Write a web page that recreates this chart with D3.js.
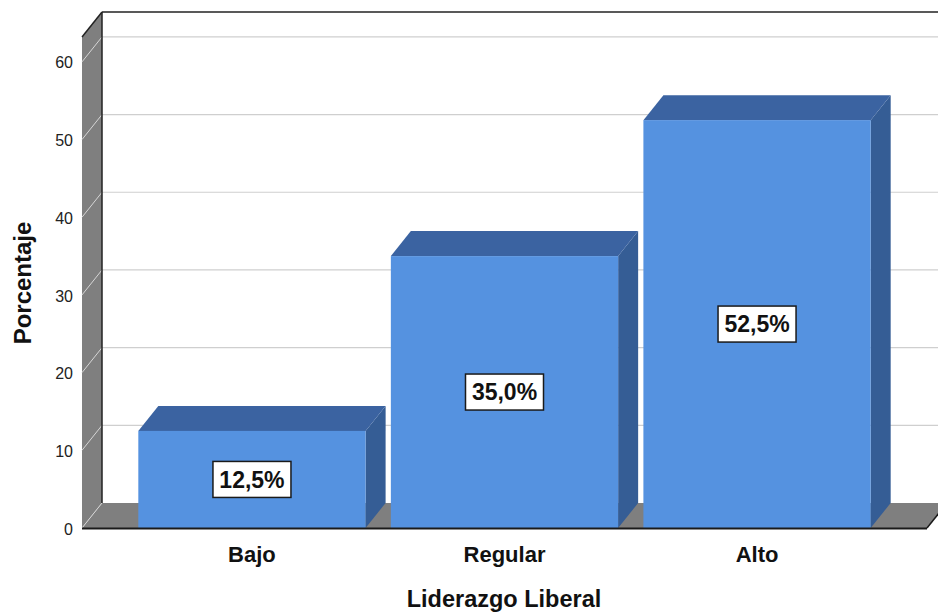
<!DOCTYPE html>
<html>
<head>
<meta charset="utf-8">
<script src="https://cdn.jsdelivr.net/npm/d3@7/dist/d3.min.js"></script>
<style>
  html, body { margin: 0; padding: 0; background: #ffffff; }
  svg { display: block; font-family: "Liberation Sans", Arial, sans-serif; }
</style>
</head>
<body>
<svg id="chart" width="938" height="613"></svg>
<script>
const categories = ["Bajo", "Regular", "Alto"];
const values = [12.5, 35.0, 52.5];
const valueLabels = ["12,5%", "35,0%", "52,5%"];
const yTicks = [0, 10, 20, 30, 40, 50, 60];
const xTitle = "Liderazgo Liberal";
const yTitle = "Porcentaje";

const W = 938, H = 613;
const dx = 20, dy = -25;           // depth offset of the 3D box
const svg = d3.select("#chart");

const y = d3.scaleLinear().domain([0, 63.2]).range([528, 37]);
const x = d3.scaleBand().domain(categories).range([82, 927])
  .paddingInner(0.1).paddingOuter(0.223);

const left = 82, right = 927, y0 = y(0), yMax = y.range()[1];

// back wall
svg.append("rect")
  .attr("x", left + dx).attr("y", yMax + dy)
  .attr("width", right - left + 10).attr("height", y0 - yMax)
  .attr("fill", "#ffffff");

// gridlines on back wall
svg.append("g").selectAll("line").data(yTicks.filter(t => t > 0)).join("line")
  .attr("x1", left + dx).attr("x2", W)
  .attr("y1", d => y(d) + dy).attr("y2", d => y(d) + dy)
  .attr("stroke", "#cfcfcf").attr("stroke-width", 1.2);

// top border of back wall
svg.append("line")
  .attr("x1", left + dx).attr("x2", W)
  .attr("y1", yMax + dy).attr("y2", yMax + dy)
  .attr("stroke", "#222").attr("stroke-width", 1.5);

// floor
svg.append("polygon")
  .attr("points", [[left, y0], [left + dx, y0 + dy], [right + dx, y0 + dy], [right, y0]].map(p => p.join(",")).join(" "))
  .attr("fill", "#7f7f7f");

// left wall
svg.append("polygon")
  .attr("points", [[left, yMax], [left + dx, yMax + dy], [left + dx, y0 + dy], [left, y0]].map(p => p.join(",")).join(" "))
  .attr("fill", "#7f7f7f");

// wall tick lines
svg.append("g").selectAll("line").data(yTicks).join("line")
  .attr("x1", left).attr("x2", left + dx)
  .attr("y1", d => y(d)).attr("y2", d => y(d) + dy)
  .attr("stroke", "#d6d6d6").attr("stroke-width", 1);

// wall edges
svg.append("line")
  .attr("x1", left + dx).attr("x2", left + dx)
  .attr("y1", yMax + dy).attr("y2", y0 + dy)
  .attr("stroke", "#222").attr("stroke-width", 1.5);
svg.append("line")
  .attr("x1", left).attr("x2", left + dx)
  .attr("y1", yMax).attr("y2", yMax + dy)
  .attr("stroke", "#222").attr("stroke-width", 1.5);

// bars
const bars = svg.append("g").selectAll("g").data(categories).join("g");
bars.each(function(c, i) {
  const g = d3.select(this);
  const x0 = x(c), x1 = x(c) + x.bandwidth(), yt = y(values[i]);
  g.append("polygon")
    .attr("points", [[x1, yt], [x1 + dx, yt + dy], [x1 + dx, y0 + dy], [x1, y0]].map(p => p.join(",")).join(" "))
    .attr("fill", "#355d95");
  g.append("polygon")
    .attr("points", [[x0, yt], [x0 + dx, yt + dy], [x1 + dx, yt + dy], [x1, yt]].map(p => p.join(",")).join(" "))
    .attr("fill", "#3b63a1");
  g.append("rect")
    .attr("x", x0).attr("y", yt).attr("width", x1 - x0).attr("height", y0 - yt)
    .attr("fill", "#5592e0");
});

// front bottom edge
svg.append("line")
  .attr("x1", left).attr("x2", right)
  .attr("y1", y0 + 0.5).attr("y2", y0 + 0.5)
  .attr("stroke", "#1a1a1a").attr("stroke-width", 2);
svg.append("line")
  .attr("x1", right).attr("x2", right + dx)
  .attr("y1", y0).attr("y2", y0 + dy)
  .attr("stroke", "#1a1a1a").attr("stroke-width", 1.5);

// value labels
const lbl = svg.append("g").selectAll("g").data(categories).join("g")
  .attr("transform", (c, i) => `translate(${x(c) + x.bandwidth() / 2},${(y(values[i]) + y0) / 2})`);
lbl.append("rect")
  .attr("x", -39).attr("y", -18).attr("width", 78).attr("height", 36)
  .attr("fill", "#ffffff").attr("stroke", "#1a1a1a").attr("stroke-width", 1.5);
lbl.append("text")
  .attr("text-anchor", "middle").attr("dy", "0.36em")
  .attr("font-size", 23).attr("font-weight", "bold").attr("fill", "#111")
  .text((c, i) => valueLabels[i]);

// y tick labels
svg.append("g").selectAll("text").data(yTicks).join("text")
  .attr("x", 73).attr("y", d => y(d) + 1)
  .attr("text-anchor", "end").attr("dy", "0.35em")
  .attr("font-size", 16).attr("fill", "#222")
  .text(d => d);

// category labels
svg.append("g").selectAll("text").data(categories).join("text")
  .attr("x", c => x(c) + x.bandwidth() / 2).attr("y", 562)
  .attr("text-anchor", "middle")
  .attr("font-size", 22).attr("font-weight", "bold").attr("fill", "#111")
  .text(c => c);

// axis titles
svg.append("text")
  .attr("x", 504).attr("y", 607)
  .attr("text-anchor", "middle")
  .attr("font-size", 23.5).attr("font-weight", "bold").attr("fill", "#111")
  .text(xTitle);
svg.append("text")
  .attr("transform", "translate(31,283) rotate(-90)")
  .attr("text-anchor", "middle")
  .attr("font-size", 24).attr("font-weight", "bold").attr("fill", "#111")
  .text(yTitle);
</script>
</body>
</html>
